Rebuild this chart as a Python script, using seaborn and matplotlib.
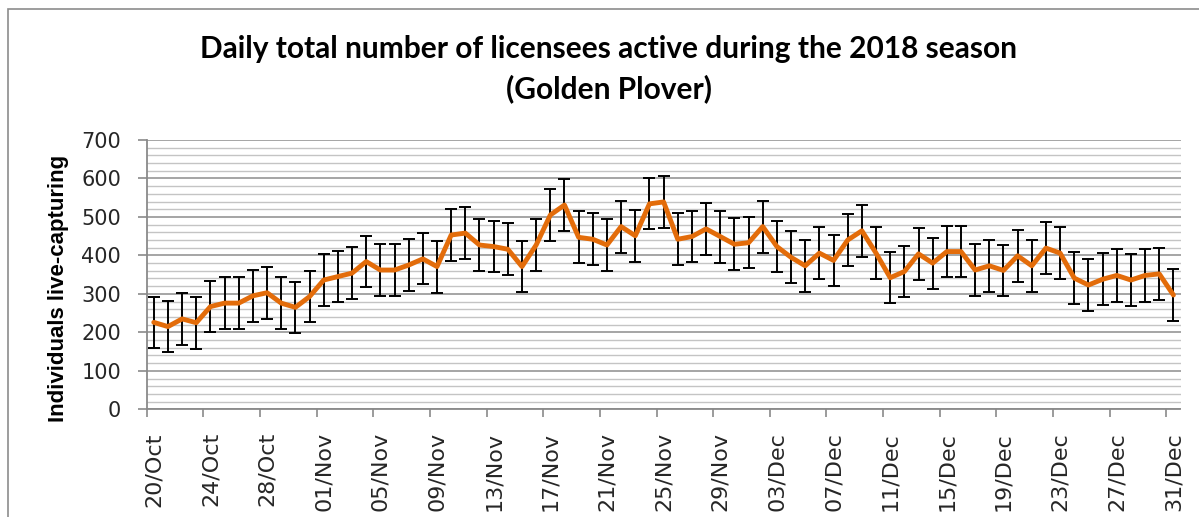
import numpy as np
import pandas as pd
import matplotlib
matplotlib.use("Agg")
import matplotlib.pyplot as plt
import seaborn as sns
from matplotlib.patches import Rectangle
from matplotlib.ticker import MultipleLocator

# ---- data -------------------------------------------------------------
dates = pd.date_range("2018-10-20", "2018-12-31", freq="D")  # 73 daily categories

counts = [226, 215, 235, 225, 267, 276, 276, 295, 303, 276,
          265, 293, 336, 345, 354, 384, 362, 362, 375, 391,
          371, 453, 458, 427, 423, 416, 371, 427, 505, 531,
          447, 442, 427, 475, 451, 534, 539, 442, 449, 469,
          449, 429, 433, 475, 423, 395, 373, 406, 387, 440,
          464, 406, 342, 358, 404, 380, 410, 410, 362, 373,
          361, 399, 373, 419, 406, 341, 323, 338, 348, 336,
          348, 352, 297]

errors = [66.5, 66.5, 67, 67, 67, 67.5, 67.5, 67, 67, 67.5,
          67, 67, 67, 66, 68, 66.5, 66.5, 66.5, 67.5, 66,
          67.5, 67, 67, 67.5, 67, 67, 66.5, 67.5, 67, 66.5,
          68, 67, 67, 67.5, 67, 66.5, 67, 68, 67, 68,
          67.5, 67, 67, 67.5, 66.5, 67.5, 67.5, 67.5, 67, 66.5,
          67, 67, 66, 67, 67, 66.5, 67, 67, 66.5, 67.5,
          66.5, 67, 67.5, 67, 67, 67.5, 67, 67.5, 68.5, 67.5,
          68.5, 68, 67]

tick_labels = ["20/Oct", "24/Oct", "28/Oct", "01/Nov", "05/Nov", "09/Nov",
               "13/Nov", "17/Nov", "21/Nov", "25/Nov", "29/Nov", "03/Dec",
               "07/Dec", "11/Dec", "15/Dec", "19/Dec", "23/Dec", "27/Dec",
               "31/Dec"]
label_step = 4

title_lines = ["Daily total number of licensees active during the 2018 season",
               "(Golden Plover)"]
y_title = "Individuals live-capturing"

# ---- style ------------------------------------------------------------
sns.set_theme(style="white")
plt.rcParams["font.family"] = ["DejaVu Sans"]

W, H = 1199, 517
fig = plt.figure(figsize=(W / 100, H / 100), dpi=100)
fig.patch.set_facecolor("white")

left_px, right_px, top_px, bottom_px = 146.7, 1180.5, 140.0, 409.3
ax = fig.add_axes([left_px / W, 1 - bottom_px / H,
                   (right_px - left_px) / W, (bottom_px - top_px) / H])
ax.set_facecolor("white")

df = pd.DataFrame({"day": np.arange(len(dates)), "date": dates,
                   "count": counts, "err": errors})

ax.errorbar(df["day"], df["count"], yerr=df["err"], fmt="none",
            ecolor="black", elinewidth=1.4, capsize=4.0, capthick=1.4,
            zorder=3)
sns.lineplot(data=df, x="day", y="count", ax=ax, color="#E36C0A",
             linewidth=3.5, zorder=4, legend=False)

ax.set_xlim(-0.5, len(dates) - 0.5)
ax.set_ylim(0, 700)
ax.yaxis.set_major_locator(MultipleLocator(100))
ax.yaxis.set_minor_locator(MultipleLocator(20))
ax.grid(False)
ax.grid(which="major", axis="y", color="#9E9E9E", linewidth=1.3, zorder=0)
ax.grid(which="minor", axis="y", color="#C4C4C4", linewidth=1.0, zorder=0)
ax.set_axisbelow(True)

label_pos = np.arange(0, len(dates), label_step)
ax.set_xticks(label_pos)
ax.set_xticklabels(tick_labels, rotation=90, fontsize=16)
ax.set_xticks(label_pos - 0.5, minor=True)
ax.tick_params(axis="x", which="major", length=0, pad=16.5, bottom=True)
ax.tick_params(axis="x", which="minor", length=5.5, width=1.2,
               color="#8A8A8A", direction="out", bottom=True)
ax.tick_params(axis="y", which="major", length=6.5, width=1.2,
               color="#8A8A8A", direction="out", pad=12, labelsize=15,
               left=True)
ax.tick_params(axis="y", which="minor", length=0, left=False)
ax.set_xlabel("")
ax.set_ylabel("")

for s in ["top", "right"]:
    ax.spines[s].set_visible(False)
for s in ["left", "bottom"]:
    ax.spines[s].set_color("#8A8A8A")
    ax.spines[s].set_linewidth(1.3)

title_font = ["Lato", "DejaVu Sans"]
fig.text(609 / W, 1 - 58.3 / H, title_lines[0], ha="center", va="baseline",
         fontsize=21.5, fontweight="bold", family=title_font, color="black")
fig.text(609 / W, 1 - 98.0 / H, title_lines[1], ha="center", va="baseline",
         fontsize=21.5, fontweight="bold", family=title_font, color="black")

fig.text(59 / W, 1 - 288.5 / H, y_title, rotation=90, ha="center",
         va="center", fontsize=16, fontweight="bold",
         family=["Liberation Sans", "DejaVu Sans"], color="black")

fig.add_artist(Rectangle((7.5 / W, -0.5), 2.0, (1 - 8.5 / H) + 0.5,
                         transform=fig.transFigure, fill=False,
                         edgecolor="#8C8C8C", linewidth=1.2))

fig.savefig("out.png", dpi=100, facecolor="white")
